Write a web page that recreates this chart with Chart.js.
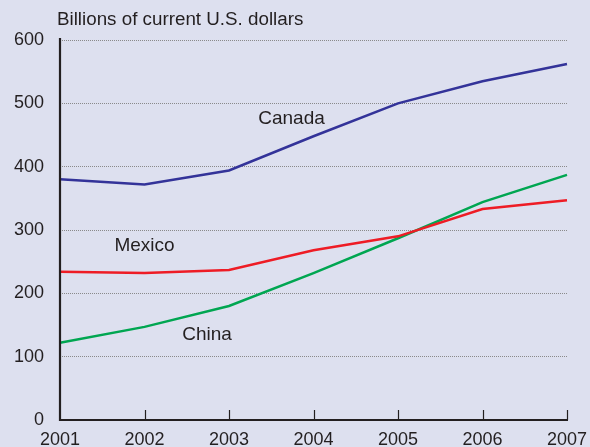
<!DOCTYPE html>
<html>
<head>
<meta charset="utf-8">
<script src="https://cdn.jsdelivr.net/npm/chart.js@4.4.0/dist/chart.umd.min.js"></script>
<style>
html,body{margin:0;padding:0;background:#dde0ef;overflow:hidden;}
#wrap{width:590px;height:447px;overflow:hidden;position:relative;}
#box{position:absolute;left:0;top:0;width:612px;height:447px;}
</style>
</head>
<body>
<div id="wrap"><div id="box"><canvas id="c"></canvas></div></div>
<script>
const years = ['2001','2002','2003','2004','2005','2006','2007'];
const canada = [380, 372, 394, 448, 500, 535, 562];
const mexico = [234, 232, 237, 268, 290, 333, 347];
const china  = [122, 147, 180, 232, 287, 344, 387];
const yTicks = [0, 100, 200, 300, 400, 500, 600];
const yTitle = 'Billions of current U.S. dollars';
const seriesLabels = [
  {text:'Canada', x:2.74, y:475},
  {text:'Mexico', x:1.0, y:275},
  {text:'China',  x:1.74, y:134}
];

const textColor = '#231f20';
const font = 'Liberation Sans, Arial, sans-serif';

const overlay = {
  id:'overlay',
  afterDraw(chart){
    const ctx = chart.ctx, xs = chart.scales.x, ys = chart.scales.y, a = chart.chartArea;
    ctx.save();
    // inward x tick marks
    ctx.strokeStyle = '#231f20';
    ctx.lineWidth = 1.2;
    for (let i = 1; i < years.length; i++){
      const px = Math.round(xs.getPixelForValue(i)) + 0.5;
      ctx.beginPath(); ctx.moveTo(px, a.bottom); ctx.lineTo(px, a.bottom - 10); ctx.stroke();
    }
    // axes
    ctx.lineWidth = 2.2;
    ctx.beginPath();
    ctx.moveTo(a.left, a.top - 2); ctx.lineTo(a.left, a.bottom); ctx.lineTo(a.right + 1, a.bottom);
    ctx.stroke();
    // title
    ctx.fillStyle = textColor;
    ctx.font = '18.8px ' + font;
    ctx.textAlign = 'left'; ctx.textBaseline = 'middle';
    ctx.fillText(yTitle, 57, 20);
    // series labels
    ctx.textAlign = 'center';
    ctx.font = '19px ' + font;
    seriesLabels.forEach(l => {
      ctx.fillText(l.text, xs.getPixelForValue(l.x), ys.getPixelForValue(l.y));
    });
    ctx.restore();
  }
};

new Chart(document.getElementById('c'), {
  type:'line',
  data:{
    labels: years,
    datasets:[
      {label:'Canada', data:canada, borderColor:'#333399', borderWidth:2.5, pointRadius:0, tension:0},
      {label:'Mexico', data:mexico, borderColor:'#ee1c25', borderWidth:2.5, pointRadius:0, tension:0},
      {label:'China',  data:china,  borderColor:'#00a651', borderWidth:2.5, pointRadius:0, tension:0}
    ]
  },
  options:{
    responsive:true, maintainAspectRatio:false, animation:false,
    layout:{padding:{top:40, right:45, bottom:0, left:0}},
    plugins:{legend:{display:false}, tooltip:{enabled:false}},
    scales:{
      x:{
        offset:false,
        afterFit(s){ s.height = 27; },
        grid:{display:false},
        border:{display:false},
        ticks:{color:textColor, font:{size:18, family:font}, padding:1, maxRotation:0, autoSkip:false}
      },
      y:{
        min:0, max:600,
        afterBuildTicks(s){ s.ticks = yTicks.map(v => ({value:v})); },
        afterFit(s){ s.width = 60; },
        grid:{color:'#8a8a8a', lineWidth:1, drawTicks:false, drawOnChartArea:true},
        border:{display:false, dash:[1,1]},
        ticks:{color:textColor, font:{size:18, family:font}, padding:16}
      }
    }
  },
  plugins:[overlay]
});
</script>
</body>
</html>
